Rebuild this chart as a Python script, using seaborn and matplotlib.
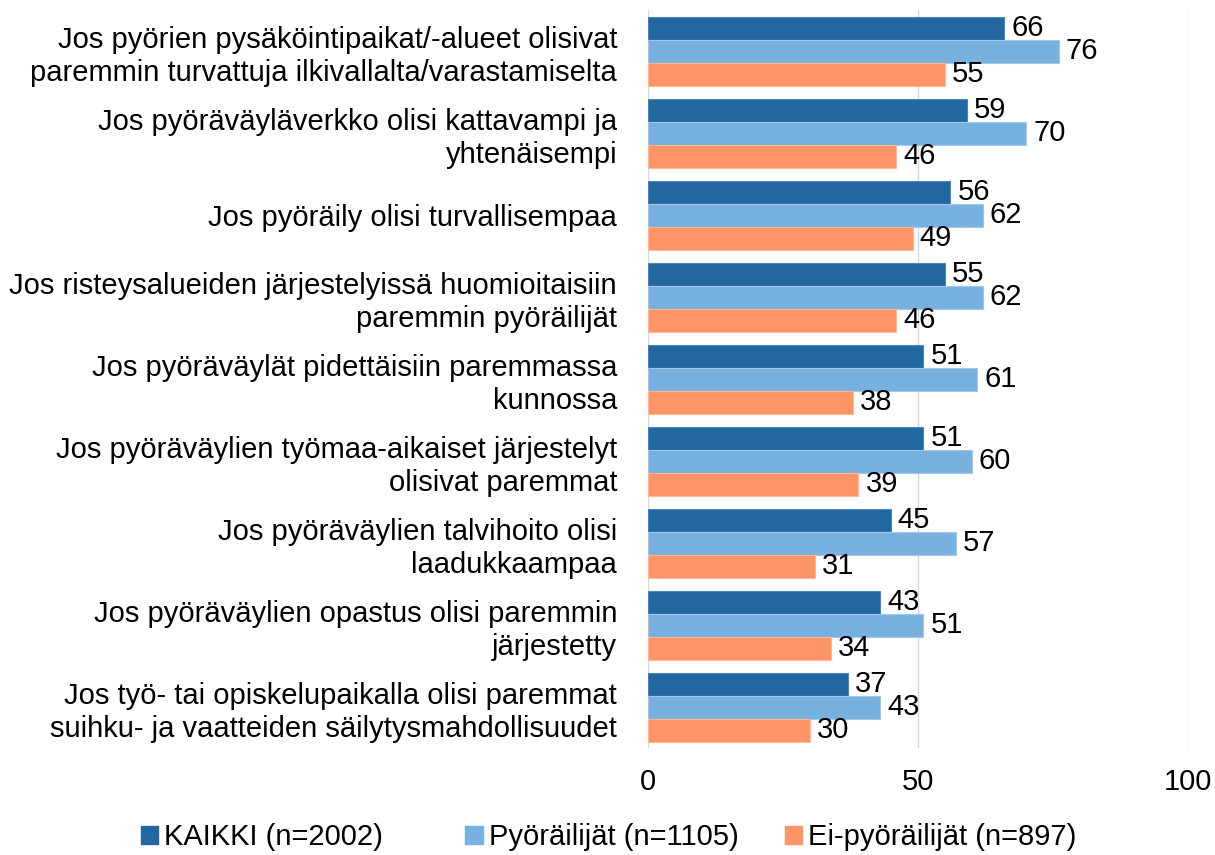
import matplotlib
matplotlib.use("Agg")
import matplotlib.pyplot as plt
import seaborn as sns
import pandas as pd
from matplotlib.patches import Patch

categories = [
    "Jos pyörien pysäköintipaikat/-alueet olisivat\nparemmin turvattuja ilkivallalta/varastamiselta",
    "Jos pyöräväyläverkko olisi kattavampi ja\nyhtenäisempi",
    "Jos pyöräily olisi turvallisempaa",
    "Jos risteysalueiden järjestelyissä huomioitaisiin\nparemmin pyöräilijät",
    "Jos pyöräväylät pidettäisiin paremmassa\nkunnossa",
    "Jos pyöräväylien työmaa-aikaiset järjestelyt\nolisivat paremmat",
    "Jos pyöräväylien talvihoito olisi\nlaadukkaampaa",
    "Jos pyöräväylien opastus olisi paremmin\njärjestetty",
    "Jos työ- tai opiskelupaikalla olisi paremmat\nsuihku- ja vaatteiden säilytysmahdollisuudet",
]
series = ["KAIKKI (n=2002)", "Pyöräilijät (n=1105)", "Ei-pyöräilijät (n=897)"]
kaikki = [66, 59, 56, 55, 51, 51, 45, 43, 37]
pyorailijat = [76, 70, 62, 62, 61, 60, 57, 51, 43]
ei_pyorailijat = [55, 46, 49, 46, 38, 39, 31, 34, 30]
x_ticks = [0, 50, 100]
colors = ["#2367A1", "#78B0E0", "#FF9566"]
edge_colors = ["#4A86BC", "#A2C8EA", "#FFB896"]

rows = []
for name, vals in zip(series, [kaikki, pyorailijat, ei_pyorailijat]):
    for cat, v in zip(categories, vals):
        rows.append({"kategoria": cat, "sarja": name, "arvo": v})
df = pd.DataFrame(rows)

sns.set_theme(style="white")
plt.rcParams["font.family"] = ["Liberation Sans", "DejaVu Sans"]

FS = 21
fig = plt.figure(figsize=(12.15, 8.55), dpi=100)
ax = fig.add_axes([0.533, 0.125, 0.445, 0.863])

sns.barplot(data=df, y="kategoria", x="arvo", hue="sarja", order=categories,
            hue_order=series, palette=colors, saturation=1, orient="h",
            width=0.84, gap=0, ax=ax, legend=False, errorbar=None)

for container, ec in zip(ax.containers, edge_colors):
    for bar in container:
        bar.set_edgecolor(ec)
        bar.set_linewidth(0.8)
    ax.bar_label(container, fmt="%d", padding=5, fontsize=FS, color="#000000")

ax.set_xlim(0, 100)
ax.set_ylim(len(categories) - 0.5, -0.5)
ax.set_xticks(x_ticks)
ax.set_xticklabels([str(t) for t in x_ticks], fontsize=FS, color="#000000")
ax.tick_params(axis="x", pad=14, length=0)
ax.tick_params(axis="y", length=0, pad=22, labelsize=FS, labelcolor="#000000")
for lbl in ax.get_yticklabels():
    lbl.set_horizontalalignment("right")
    lbl.set_multialignment("right")
    lbl.set_linespacing(1.2)
ax.set_xlabel("")
ax.set_ylabel("")
ax.grid(axis="x", color="#D9D9D9", linewidth=1)
ax.set_axisbelow(True)
for s in ax.spines.values():
    s.set_visible(False)

# legend entries laid out in equal-width columns along the bottom
legend_x = [0.116, 0.383, 0.646]
for x, name, c in zip(legend_x, series, colors):
    fig.legend([Patch(facecolor=c, edgecolor=c)], [name], loc="center left",
               bbox_to_anchor=(x, 0.021), frameon=False, fontsize=FS,
               labelcolor="#000000", handlelength=0.6, handleheight=0.6,
               handletextpad=0.2, borderpad=0, borderaxespad=0)

fig.savefig("out.png", dpi=100)
